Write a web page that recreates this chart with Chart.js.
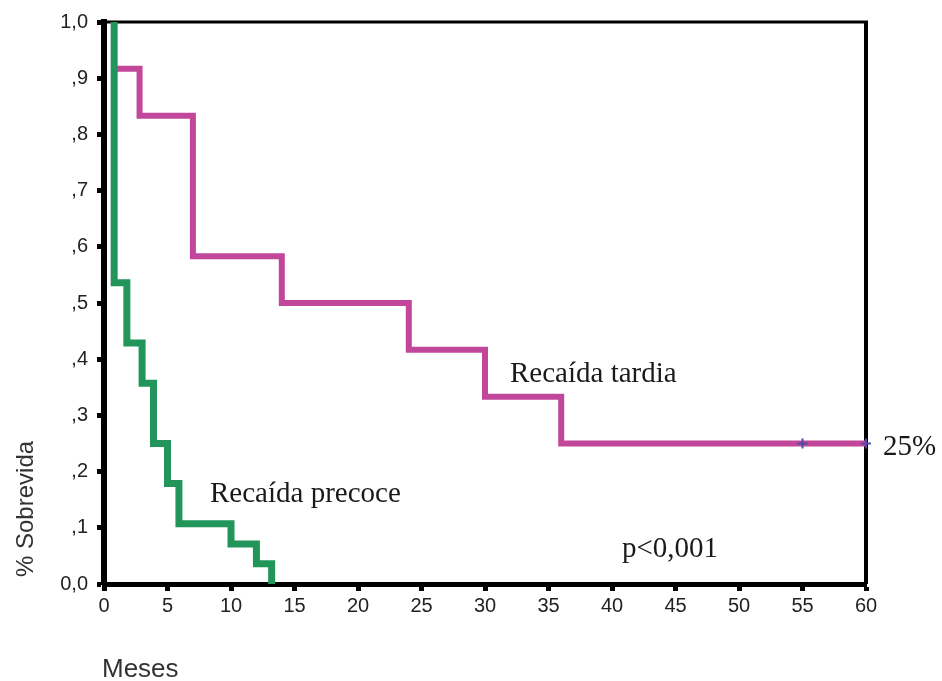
<!DOCTYPE html>
<html>
<head>
<meta charset="utf-8">
<script src="https://cdn.jsdelivr.net/npm/chart.js@4/dist/chart.umd.min.js"></script>
<style>
  html, body { margin: 0; padding: 0; background: #ffffff; }
  #c { display: block; }
</style>
</head>
<body>
<canvas id="c" width="942" height="681"></canvas>
<script>
// ---- Data ----
const seriesNames = ['Recaída precoce', 'Recaída tardia'];
// Recaída precoce (early relapse) Kaplan-Meier steps
const tPrecoce = [0.8, 0.8, 1.8, 3.0, 3.9, 5.0, 5.9, 10.0, 12.0, 13.2];
const sPrecoce = [1.0, 0.536, 0.429, 0.357, 0.25, 0.179, 0.107, 0.071, 0.036, 0.0];
// Recaída tardia (late relapse) Kaplan-Meier steps
const tTardia = [0.8, 2.8, 7.0, 14.0, 24.0, 30.0, 36.0, 60.0];
const sTardia = [0.917, 0.833, 0.583, 0.5, 0.417, 0.333, 0.25, 0.25];
// Censored observations (+ marks)
const tCensor = [55, 60];
const sCensor = [0.25, 0.25];
// Tick labels
const xTickLabels = ['0','5','10','15','20','25','30','35','40','45','50','55','60'];
const yTickLabels = ['0,0', ',1', ',2', ',3', ',4', ',5', ',6', ',7', ',8', ',9', '1,0'];
const xTitle = 'Meses';
const yTitle = '% Sobrevida';
const pValueText = 'p<0,001';
const endLabelText = '25%';

const toXY = (ts, ss) => ts.map((t, i) => ({ x: t, y: ss[i] }));

const GREEN = '#22965a';
const PURPLE = '#c2479b';

const framePlugin = {
  id: 'frame',
  beforeDraw(chart) {
    const ctx = chart.ctx;
    ctx.save();
    ctx.fillStyle = '#ffffff';
    ctx.fillRect(0, 0, chart.width, chart.height);
    ctx.restore();
  },
  beforeDatasetsDraw(chart) {
    const { ctx, chartArea: a } = chart;
    ctx.save();
    ctx.strokeStyle = '#000';
    ctx.lineWidth = 3;
    ctx.beginPath();
    ctx.moveTo(a.left, a.top);
    ctx.lineTo(a.right + 2, a.top);
    ctx.stroke();
    ctx.lineWidth = 4;
    ctx.beginPath();
    ctx.moveTo(a.right, a.top);
    ctx.lineTo(a.right, a.bottom);
    ctx.stroke();
    ctx.restore();
  },
  afterDraw(chart) {
    const { ctx, chartArea: a } = chart;
    ctx.save();
    // serif annotations
    ctx.fillStyle = '#1a1a1a';
    ctx.font = '29px "Liberation Serif", "Times New Roman", serif';
    ctx.textBaseline = 'alphabetic';
    ctx.textAlign = 'left';
    ctx.fillText(seriesNames[1], 510, 382);
    ctx.fillText(seriesNames[0], 210, 502);
    ctx.fillText(pValueText, 622, 557);
    ctx.fillText(endLabelText, a.right + 17, 455);
    // axis titles
    ctx.fillStyle = '#333';
    ctx.font = '26px "Liberation Sans", Arial, sans-serif';
    ctx.fillText(xTitle, 102, 677);
    ctx.save();
    ctx.translate(33, 577);
    ctx.rotate(-Math.PI / 2);
    ctx.font = '24px "Liberation Sans", Arial, sans-serif';
    ctx.fillText(yTitle, 0, 0);
    ctx.restore();
    ctx.restore();
  }
};

new Chart(document.getElementById('c'), {
  type: 'line',
  data: {
    datasets: [
      {
        label: seriesNames[0],
        data: toXY(tPrecoce, sPrecoce),
        borderColor: GREEN,
        borderWidth: 7,
        stepped: true,
        pointRadius: 0,
        fill: false,
        borderCapStyle: 'butt',
        borderJoinStyle: 'miter',
        clip: 4
      },
      {
        label: seriesNames[1],
        data: toXY(tTardia, sTardia),
        borderColor: PURPLE,
        borderWidth: 6,
        stepped: true,
        pointRadius: 0,
        fill: false,
        borderCapStyle: 'butt',
        borderJoinStyle: 'miter',
        clip: 4
      },
      {
        label: 'censored',
        type: 'scatter',
        data: toXY(tCensor, sCensor),
        showLine: false,
        pointStyle: 'cross',
        pointRadius: 5,
        borderWidth: 2,
        borderColor: '#4b4fa8',
        backgroundColor: '#4b4fa8',
        order: -1,
        clip: 8
      }
    ]
  },
  options: {
    responsive: false,
    animation: false,
    devicePixelRatio: 1,
    layout: { padding: { left: 0, top: 22, right: 76, bottom: 0 } },
    plugins: {
      legend: { display: false },
      tooltip: { enabled: false },
      title: { display: false }
    },
    scales: {
      x: {
        type: 'linear',
        min: 0,
        max: 60,
        afterFit(s) { s.height = 681 - 584; },
        afterBuildTicks(s) { s.ticks = xTickLabels.map(v => ({ value: Number(v) })); },
        ticks: {
          stepSize: 5,
          autoSkip: false,
          maxRotation: 0,
          padding: 3,
          color: '#222',
          font: { family: '"Liberation Sans", Arial, sans-serif', size: 20 },
          callback: (v, i) => xTickLabels[i]
        },
        grid: {
          display: true,
          drawOnChartArea: false,
          drawTicks: true,
          tickLength: 7,
          tickWidth: 5,
          tickColor: '#000'
        },
        border: { display: true, color: '#000', width: 5 }
      },
      y: {
        type: 'linear',
        min: 0,
        max: 1,
        afterFit(s) { s.width = 104; },
        afterBuildTicks(s) { s.ticks = yTickLabels.map((_, i) => ({ value: i / 10 })); },
        ticks: {
          stepSize: 0.1,
          autoSkip: false,
          padding: 9,
          color: '#222',
          font: { family: '"Liberation Sans", Arial, sans-serif', size: 20 },
          callback: (v, i) => yTickLabels[i]
        },
        grid: {
          display: true,
          drawOnChartArea: false,
          drawTicks: true,
          tickLength: 7,
          tickWidth: 5,
          tickColor: '#000'
        },
        border: { display: true, color: '#000', width: 6 }
      }
    }
  },
  plugins: [framePlugin]
});
</script>
</body>
</html>
